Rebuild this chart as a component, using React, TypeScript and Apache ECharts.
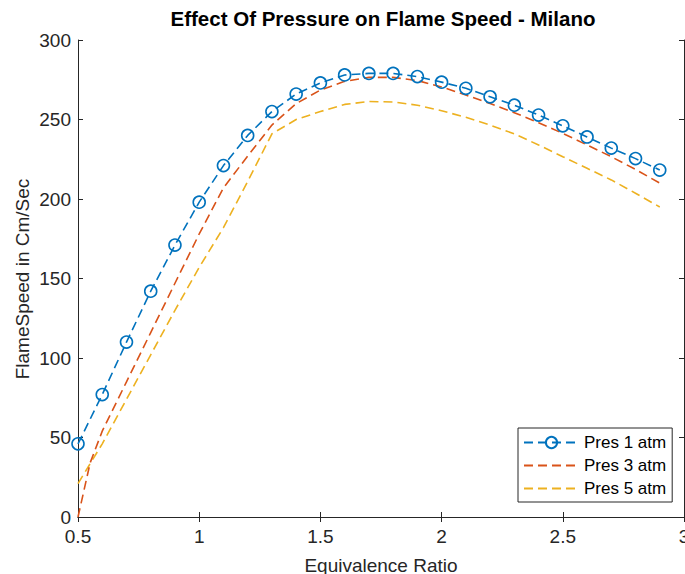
import React, { useEffect, useRef } from "react";
import * as echarts from "echarts";

const phi = [0.5, 0.6, 0.7, 0.8, 0.9, 1.0, 1.1, 1.2, 1.3, 1.4, 1.5, 1.6, 1.7, 1.8, 1.9, 2.0, 2.1, 2.2, 2.3, 2.4, 2.5, 2.6, 2.7, 2.8, 2.9];
const pres1 = [46, 77, 110, 142, 171, 198, 221, 240, 255, 266, 273, 278, 279, 279, 277, 273.5, 269.6, 264.3, 259, 252.8, 246, 239, 232, 225.4, 218.2];

const phi3 = [0.5, 0.55, 0.6, 0.7, 0.8, 0.9, 1.0, 1.1, 1.2, 1.3, 1.4, 1.5, 1.6, 1.7, 1.8, 1.9, 2.0, 2.1, 2.2, 2.3, 2.4, 2.5, 2.6, 2.7, 2.8, 2.9];
const pres3 = [0, 34, 54, 85, 116, 147, 178, 207, 227, 246.5, 260, 268.5, 274, 276.5, 276.5, 274.5, 270.5, 265.4, 260, 254.3, 248, 241.3, 234, 226.6, 218.6, 210];

const pres5 = [21, 46, 74, 102, 130, 157, 182, 211, 241, 250, 255, 259.5, 261.3, 261, 259, 255.5, 251.4, 246.5, 241, 234, 226.6, 219.3, 212, 203.6, 195];

const seriesNames = ["Pres 1 atm", "Pres 3 atm", "Pres 5 atm"];
const colors = ["#0072BD", "#D95319", "#EDB120"];

const titleText = "Effect Of Pressure on Flame Speed - Milano";
const xLabel = "Equivalence Ratio";
const yLabel = "FlameSpeed in Cm/Sec";

const FONT = "'Liberation Sans', Arial, Helvetica, sans-serif";
const AX = "#262626";

export default function App() {
  const ref = useRef<HTMLDivElement>(null);
  useEffect(() => {
    if (!ref.current) return;
    const chart = echarts.init(ref.current, null, { renderer: "svg" });
    const tickStyle = { show: true, inside: true, length: 5, lineStyle: { color: AX, width: 1 } };
    const axLine = { show: true, lineStyle: { color: AX, width: 1 } };
    const dash = [9, 5];
    const clear = "rgba(0,0,0,0)";
    chart.setOption({
      animation: false,
      backgroundColor: "#ffffff",
      textStyle: { fontFamily: FONT },
      grid: { left: 78, top: 40, right: 1, bottom: 57, containLabel: false, outerBoundsMode: "none" },
      xAxis: [
        {
          type: "value", min: 0.5, max: 3, interval: 0.5, position: "bottom",
          axisLine: axLine, axisTick: tickStyle, splitLine: { show: false },
          axisLabel: { color: AX, fontSize: 19, fontFamily: FONT, margin: 10, formatter: (v: number) => String(v) },
        },
        {
          type: "value", min: 0.5, max: 3, interval: 0.5, position: "top",
          axisLine: axLine, axisTick: tickStyle, splitLine: { show: false },
          axisLabel: { show: false },
        },
      ],
      yAxis: [
        {
          type: "value", min: 0, max: 300, interval: 50, position: "left",
          axisLine: axLine, axisTick: tickStyle, splitLine: { show: false },
          axisLabel: { color: AX, fontSize: 19, fontFamily: FONT, margin: 7 },
        },
        {
          type: "value", min: 0, max: 300, interval: 50, position: "right",
          axisLine: axLine, axisTick: tickStyle, splitLine: { show: false },
          axisLabel: { show: false },
        },
      ],
      legend: {
        orient: "vertical",
        left: 518,
        top: 428,
        padding: [6, 6, 5, 5],
        itemGap: 6,
        itemWidth: 55,
        itemHeight: 14,
        borderColor: AX,
        borderWidth: 1,
        backgroundColor: "#ffffff",
        textStyle: { color: "#000", fontSize: 17, lineHeight: 17, fontFamily: FONT },
        data: seriesNames,
      },
      series: [
        {
          name: seriesNames[0],
          type: "line",
          data: phi.map((x, i) => [x, pres1[i]]),
          symbol: "circle",
          symbolSize: 12,
          clip: false,
          itemStyle: { color: clear, borderColor: colors[0], borderWidth: 1.6 },
          lineStyle: { color: colors[0], width: 1.6, type: dash },
          z: 5,
        },
        {
          name: seriesNames[1],
          type: "line",
          data: phi3.map((x, i) => [x, pres3[i]]),
          symbol: "circle",
          symbolSize: 0,
          showSymbol: false,
          itemStyle: { color: clear, borderWidth: 0 },
          lineStyle: { color: colors[1], width: 1.6, type: dash },
          z: 4,
        },
        {
          name: seriesNames[2],
          type: "line",
          data: phi.map((x, i) => [x, pres5[i]]),
          symbol: "circle",
          symbolSize: 0,
          showSymbol: false,
          itemStyle: { color: clear, borderWidth: 0 },
          lineStyle: { color: colors[2], width: 1.6, type: dash },
          z: 3,
        },
      ],
      graphic: [
        {
          type: "text", x: 383, y: 18,
          style: { text: titleText, align: "center", verticalAlign: "middle", font: `bold 20.5px ${FONT}`, fill: "#000" },
        },
        {
          type: "text", x: 381, y: 565,
          style: { text: xLabel, align: "center", verticalAlign: "middle", font: `19px ${FONT}`, fill: AX },
        },
        {
          type: "text", x: 22, y: 279, rotation: Math.PI / 2,
          style: { text: yLabel, align: "center", verticalAlign: "middle", font: `19px ${FONT}`, fill: AX },
        },
      ],
    });
    return () => chart.dispose();
  }, []);
  return <div ref={ref} style={{ position: "fixed", left: 0, top: 0, width: 685, height: 574 }} />;
}
